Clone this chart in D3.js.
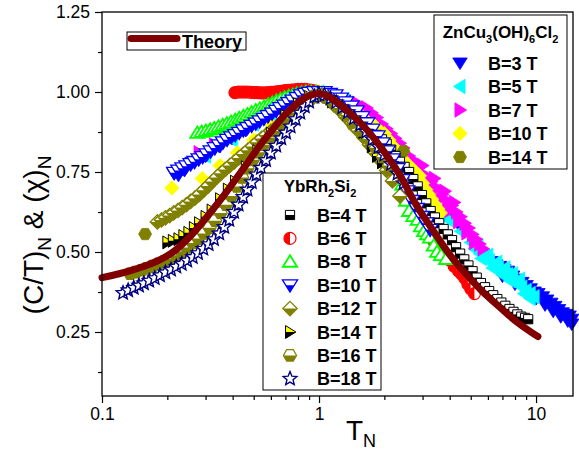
<!DOCTYPE html>
<html><head><meta charset="utf-8">
<script src="https://cdn.jsdelivr.net/npm/d3@7/dist/d3.min.js"></script>
<style>
body{margin:0;background:#fff}
svg{display:block}
text{font-family:"Liberation Sans",Arial,Helvetica,sans-serif;fill:#000}
</style></head>
<body><svg id="c" width="579" height="452"></svg>
<script>
// ---------- data (T_N, normalized value) ----------
const theory = [[0.1,0.42],[0.12,0.432],[0.14,0.445],[0.16,0.458],[0.18,0.472],[0.2,0.488],[0.22,0.508],[0.25,0.543],[0.28,0.58],[0.32,0.628],[0.36,0.672],[0.4,0.714],[0.45,0.762],[0.5,0.806],[0.55,0.844],[0.6,0.876],[0.7,0.93],[0.8,0.966],[0.9,0.988],[1.0,0.995],[1.1,0.987],[1.2,0.97],[1.4,0.932],[1.66,0.882],[2.0,0.812],[2.36,0.74],[2.8,0.648],[3.37,0.565],[4.0,0.492],[4.8,0.428],[5.6,0.38],[6.8,0.328],[8.1,0.283],[9.2,0.256],[10.2,0.236]];

// ZnCu3(OH)6Cl2
const zn3 = [[0.215,0.745],[0.225,0.74],[0.24,0.755],[0.26,0.78],[0.3,0.8],[0.35,0.83],[0.4,0.855],[0.46,0.88],[0.52,0.905],[0.6,0.93],[0.7,0.96],[0.8,0.98],[0.9,0.995],[1.0,1.0],[1.15,0.99],[1.3,0.975],[1.5,0.945],[1.75,0.905],[2.0,0.865],[2.3,0.815],[2.6,0.77],[3.0,0.715],[3.5,0.66],[4.0,0.615],[4.6,0.565],[5.2,0.525],[5.8,0.49],[6.2,0.47],[6.5,0.46],[6.8,0.455],[7.1,0.445],[7.4,0.44],[7.8,0.425],[8.2,0.415],[8.6,0.405],[9.0,0.395],[9.4,0.385],[9.8,0.375],[10.2,0.37],[10.7,0.36],[11.2,0.35],[11.7,0.34],[12.2,0.33],[12.7,0.32],[13.2,0.31],[13.7,0.305],[14.2,0.3],[14.6,0.29],[7.0,0.425],[8.0,0.4],[9.0,0.375],[10.0,0.355],[11.0,0.335],[12.0,0.315],[13.0,0.298],[14.0,0.285],[14.6,0.275]];
const zn5 = [[0.3,0.8],[0.4,0.85],[0.5,0.9],[0.6,0.93],[0.7,0.96],[0.8,0.98],[0.9,0.995],[1.0,1.0],[1.15,0.99],[1.3,0.975],[1.5,0.95],[1.75,0.91],[2.0,0.87],[2.3,0.82],[2.6,0.77],[3.0,0.7],[3.4,0.64],[3.6,0.625],[3.8,0.61],[4.0,0.598],[4.5,0.565],[5.0,0.53],[5.2,0.51],[5.5,0.495],[5.8,0.485],[6.1,0.472],[6.4,0.46],[6.7,0.45],[7.0,0.44],[7.4,0.43],[7.8,0.415],[8.2,0.403],[8.6,0.39],[9.0,0.38],[9.4,0.37],[9.8,0.36],[5.4,0.52],[6.0,0.49],[6.6,0.468],[7.2,0.45],[7.8,0.432],[8.4,0.415],[5.6,0.48],[6.3,0.45],[7.0,0.428],[7.6,0.41],[8.8,0.37],[9.4,0.355]];
const zn7 = [[0.28,0.81],[0.33,0.835],[0.4,0.865],[0.5,0.905],[0.6,0.94],[0.7,0.965],[0.8,0.985],[0.9,1.0],[1.0,1.0],[1.15,0.995],[1.3,0.98],[1.5,0.965],[1.66,0.95],[1.75,0.935],[1.85,0.92],[1.95,0.9],[2.05,0.885],[2.15,0.87],[2.25,0.855],[2.36,0.84],[2.45,0.825],[2.6,0.8],[2.75,0.785],[2.9,0.765],[3.1,0.74],[3.3,0.72],[3.5,0.7],[3.7,0.68],[3.9,0.66],[4.1,0.645],[4.3,0.625],[4.5,0.61],[4.7,0.59],[4.9,0.575],[5.1,0.555],[5.3,0.54],[5.5,0.525],[5.7,0.51],[2.5,0.79],[2.8,0.755],[3.2,0.705],[3.6,0.665],[4.0,0.63],[4.4,0.595],[4.8,0.56],[5.2,0.53],[3.0,0.77],[3.4,0.73],[3.8,0.69],[4.2,0.655]];
const zn10 = [[0.21,0.7],[0.29,0.73],[0.35,0.77],[0.42,0.81],[0.5,0.85],[0.6,0.9],[0.7,0.94],[0.8,0.97],[0.9,0.99],[1.0,1.0],[1.2,0.98],[1.4,0.95],[1.6,0.92],[1.8,0.895],[1.9,0.88],[2.0,0.87],[2.1,0.85],[2.2,0.83],[2.3,0.81],[2.4,0.795],[2.5,0.78],[2.6,0.77],[2.7,0.758],[2.8,0.748],[2.9,0.738],[3.0,0.715],[3.1,0.695],[3.2,0.68],[3.3,0.665],[3.42,0.648],[3.52,0.635],[3.62,0.622]];
const zn14 = [[0.158,0.556],[0.83,0.95],[1.42,0.9],[2.45,0.815]];

// YbRh2Si2
const yb4 = [[0.66,0.975],[0.7,0.982],[0.75,0.99],[0.8,0.995],[0.85,1.0],[0.9,1.0],[0.95,1.0],[1.0,1.0],[1.06,0.995],[1.13,0.985],[1.2,0.972],[1.28,0.958],[1.37,0.94],[1.46,0.922],[1.55,0.905],[1.65,0.89],[1.75,0.878],[1.85,0.866],[1.95,0.852],[2.05,0.838],[2.15,0.82],[2.25,0.8],[2.36,0.782],[2.48,0.766],[2.6,0.75],[2.72,0.728],[2.85,0.705],[2.98,0.678],[3.12,0.652],[3.27,0.628],[3.42,0.608],[3.58,0.59],[3.75,0.572],[3.92,0.555],[4.1,0.537],[4.28,0.515],[4.47,0.495],[4.67,0.477],[4.88,0.458],[5.1,0.44],[5.33,0.42],[5.57,0.403],[5.82,0.39],[6.08,0.378],[6.35,0.365],[6.63,0.353],[6.92,0.342],[7.22,0.332],[7.54,0.322],[7.87,0.313],[8.2,0.305],[8.55,0.298],[8.9,0.294],[9.2,0.29]];
const yb6 = [[0.41,0.998],[0.425,1.0],[0.44,1.0],[0.455,1.0],[0.47,1.0],[0.487,0.999],[0.505,0.998],[0.523,0.998],[0.542,0.997],[0.562,0.997],[0.582,0.998],[0.603,0.999],[0.625,1.0],[0.648,1.001],[0.671,1.002],[0.695,1.004],[0.72,1.005],[0.746,1.006],[0.773,1.007],[0.801,1.008],[0.83,1.008],[0.86,1.008],[0.891,1.007],[0.923,1.005],[0.956,1.003],[0.99,1.0],[1.05,0.995],[1.15,0.98],[1.25,0.962],[1.38,0.938],[1.52,0.91],[1.68,0.875],[1.85,0.835],[2.05,0.79],[2.25,0.745],[2.5,0.69],[2.75,0.64],[3.0,0.595],[3.2,0.56],[3.37,0.535],[3.55,0.515],[3.7,0.5],[3.85,0.488],[4.0,0.475],[4.2,0.455],[4.4,0.44],[4.55,0.43],[4.7,0.418],[4.85,0.4],[5.0,0.385],[5.2,0.37]];
const yb8 = [[0.275,0.872],[0.288,0.875],[0.301,0.878],[0.315,0.882],[0.329,0.886],[0.344,0.891],[0.36,0.896],[0.376,0.901],[0.393,0.906],[0.411,0.912],[0.429,0.918],[0.448,0.924],[0.468,0.93],[0.489,0.936],[0.511,0.942],[0.534,0.948],[0.558,0.954],[0.583,0.96],[0.609,0.966],[0.636,0.972],[0.664,0.977],[0.694,0.982],[0.725,0.987],[0.757,0.991],[0.79,0.995],[0.83,0.998],[0.87,1.0],[0.92,1.0],[0.97,1.0],[1.03,0.996],[1.1,0.987],[1.2,0.97],[1.3,0.952],[1.42,0.93],[1.55,0.905],[1.7,0.875],[1.85,0.845],[2.0,0.812],[2.15,0.78],[2.3,0.75],[2.42,0.71],[2.52,0.66],[2.6,0.628],[2.72,0.612],[2.85,0.6],[2.95,0.58],[3.05,0.565],[3.15,0.555],[3.25,0.545],[3.38,0.52],[3.5,0.5],[3.65,0.49],[3.85,0.478]];
const yb10 = [[0.215,0.748],[0.225,0.755],[0.235,0.762],[0.245,0.768],[0.256,0.775],[0.267,0.782],[0.279,0.79],[0.291,0.797],[0.304,0.806],[0.317,0.815],[0.331,0.825],[0.346,0.834],[0.361,0.843],[0.377,0.851],[0.394,0.859],[0.411,0.866],[0.429,0.873],[0.448,0.881],[0.468,0.888],[0.489,0.895],[0.511,0.902],[0.533,0.909],[0.557,0.917],[0.582,0.925],[0.608,0.933],[0.635,0.942],[0.663,0.95],[0.693,0.958],[0.724,0.966],[0.756,0.974],[0.79,0.982],[0.826,0.99],[0.863,0.995],[0.9,0.998],[0.95,1.0],[1.0,1.0],[1.06,1.0],[1.12,0.995],[1.19,0.99],[1.26,0.98],[1.33,0.968],[1.41,0.955],[1.49,0.94],[1.58,0.922],[1.67,0.903],[1.76,0.883],[1.86,0.862],[1.96,0.84],[2.07,0.815],[2.18,0.79],[2.3,0.76],[2.42,0.725],[2.55,0.69],[2.68,0.66],[2.82,0.635],[2.97,0.61],[3.12,0.59],[3.25,0.57]];
const yb12 = [[0.18,0.594],[0.188,0.6],[0.196,0.607],[0.205,0.614],[0.214,0.622],[0.224,0.63],[0.234,0.639],[0.245,0.648],[0.256,0.658],[0.268,0.668],[0.281,0.68],[0.294,0.693],[0.308,0.706],[0.322,0.72],[0.337,0.733],[0.353,0.746],[0.37,0.758],[0.388,0.77],[0.407,0.782],[0.427,0.794],[0.448,0.806],[0.47,0.818],[0.494,0.83],[0.518,0.843],[0.544,0.855],[0.571,0.866],[0.6,0.877],[0.63,0.888],[0.662,0.9],[0.695,0.912],[0.73,0.925],[0.767,0.937],[0.806,0.949],[0.846,0.96],[0.888,0.971],[0.933,0.98],[0.98,0.987],[1.03,0.99],[1.1,0.978],[1.17,0.96],[1.25,0.942],[1.33,0.922],[1.42,0.902],[1.51,0.88],[1.61,0.858],[1.71,0.835],[1.82,0.81],[1.93,0.784],[2.05,0.755],[2.18,0.722],[2.36,0.675]];
const yb14 = [[0.2,0.53],[0.212,0.535],[0.225,0.54],[0.237,0.55],[0.25,0.56],[0.265,0.575],[0.28,0.59],[0.3,0.61],[0.32,0.63],[0.35,0.665],[0.38,0.695],[0.41,0.72],[0.46,0.765],[0.52,0.815],[0.6,0.87],[0.7,0.925],[0.8,0.962],[0.9,0.985],[1.0,0.99],[1.15,0.97],[1.35,0.93],[1.6,0.875],[1.75,0.83],[1.85,0.8],[1.95,0.78]];
const yb16 = [[0.135,0.432],[0.143,0.437],[0.152,0.443],[0.161,0.449],[0.171,0.456],[0.182,0.463],[0.194,0.471],[0.206,0.479],[0.219,0.49],[0.232,0.502],[0.246,0.514],[0.262,0.528],[0.278,0.542],[0.295,0.558],[0.313,0.576],[0.332,0.598],[0.352,0.622],[0.373,0.648],[0.395,0.675],[0.418,0.705],[0.442,0.733],[0.468,0.762],[0.495,0.788],[0.525,0.812],[0.555,0.835],[0.59,0.857],[0.625,0.878],[0.665,0.9],[0.705,0.918],[0.75,0.936],[0.8,0.954],[0.85,0.968],[0.9,0.98],[0.95,0.987],[1.0,0.99],[1.08,0.982],[1.16,0.968],[1.25,0.95],[1.35,0.928],[1.45,0.905],[1.57,0.88],[1.7,0.853],[1.83,0.826],[1.97,0.797],[2.1,0.77]];
const yb18 = [[0.125,0.372],[0.132,0.38],[0.14,0.388],[0.148,0.395],[0.156,0.402],[0.165,0.41],[0.175,0.418],[0.185,0.427],[0.196,0.436],[0.208,0.445],[0.22,0.454],[0.233,0.463],[0.247,0.473],[0.262,0.484],[0.277,0.496],[0.293,0.51],[0.31,0.524],[0.328,0.54],[0.347,0.558],[0.366,0.578],[0.386,0.6],[0.406,0.625],[0.426,0.648],[0.447,0.672],[0.468,0.695],[0.49,0.718],[0.515,0.742],[0.54,0.763],[0.57,0.787],[0.6,0.81],[0.635,0.832],[0.67,0.855],[0.705,0.873],[0.74,0.892],[0.78,0.915],[0.82,0.935],[0.86,0.955],[0.9,0.97],[0.95,0.985],[1.0,0.993],[1.06,0.99],[1.13,0.98],[1.2,0.968],[1.28,0.952],[1.36,0.937],[1.45,0.918],[1.55,0.898],[1.65,0.876],[1.76,0.852],[1.88,0.828],[2.0,0.804],[2.15,0.775],[2.3,0.745],[2.45,0.715]];

const xMajor = [0.1, 1, 10];
const xMinor = [0.2,0.3,0.4,0.5,0.6,0.7,0.8,0.9,2,3,4,5,6,7,8,9];
const yMajor = [0.25, 0.5, 0.75, 1.0, 1.25];
const yMinor = [0.125, 0.375, 0.625, 0.875, 1.125];

const znLabels = ["B=3 T","B=5 T","B=7 T","B=10 T","B=14 T"];
const ybLabels = ["B=4 T","B=6 T","B=8 T","B=10 T","B=12 T","B=14 T","B=16 T","B=18 T"];

// ---------- setup ----------
const svg = d3.select("#c");
const L = 102, R = 573, T = 12, B = 396;
const x = d3.scaleLog().domain([0.1, 14.8]).range([L, R]);
const y = d3.scaleLinear().domain([0.05, 1.25]).range([B, T]);

// ---------- shapes ----------
function polyPath(p){ return "M" + p.map(q => q[0].toFixed(2)+","+q[1].toFixed(2)).join("L") + "Z"; }
function clip(pts, f){
  const out = [];
  for (let i = 0; i < pts.length; i++){
    const a = pts[i], b = pts[(i+1)%pts.length];
    const fa = f(a), fb = f(b);
    if (fa >= 0) out.push(a);
    if ((fa >= 0) !== (fb >= 0)){
      const t = fa/(fa-fb);
      out.push([a[0]+t*(b[0]-a[0]), a[1]+t*(b[1]-a[1])]);
    }
  }
  return out;
}
const shp = {
  square: r => [[-r,-r],[r,-r],[r,r],[-r,r]],
  triUp: r => [[0,-r*1.05],[r*1.15,r*0.8],[-r*1.15,r*0.8]],
  triDown: r => [[-r*1.15,-r*0.8],[r*1.15,-r*0.8],[0,r*1.05]],
  triLeft: r => [[-r*1.05,0],[r*0.8,-r*1.15],[r*0.8,r*1.15]],
  triRight: r => [[r*1.05,0],[-r*0.8,-r*1.15],[-r*0.8,r*1.15]],
  diamond: r => [[0,-r],[r,0],[0,r],[-r,0]],
  hex: r => d3.range(6).map(i => [r*Math.cos(i*Math.PI/3), r*Math.sin(i*Math.PI/3)]),
  star: r => d3.range(10).map(i => { const a = -Math.PI/2 + i*Math.PI/5, rr = i%2 ? r*0.45 : r; return [rr*Math.cos(a), rr*Math.sin(a)]; })
};
const bottomHalf = p => p[1];

const specs = {
  zn3:  {shape:"triDown", r:6.3, base:"#0000ff", stroke:"#0000ff", sw:0.8},
  zn5:  {shape:"triLeft", r:6.3, base:"#00ffff", stroke:"#00ffff", sw:0.8},
  zn7:  {shape:"triRight", r:6.3, base:"#ff00ff", stroke:"#ff00ff", sw:0.8},
  zn10: {shape:"diamond", r:7.2, base:"#ffff00", stroke:"#ffff00", sw:0.8},
  zn14: {shape:"hex", r:6.5, base:"#808000", stroke:"#808000", sw:0.8},
  yb4:  {shape:"square", r:4.6, base:"#ffffff", half:"#000000", hp:bottomHalf, stroke:"#000000", sw:1},
  yb6:  {shape:"circle", r:6, base:"#ffffff", half:"#ff0000", stroke:"#ff0000", sw:1.2},
  yb8:  {shape:"triUp", r:6.2, base:"#ffffff", stroke:"#00ff00", sw:1.8},
  yb10: {shape:"triDown", r:6.6, base:"#ffffff", half:"#0000ff", hp:bottomHalf, stroke:"#0000ff", sw:1.3},
  yb12: {shape:"diamond", r:7.2, base:"#ffffff", half:"#808000", hp:bottomHalf, stroke:"#808000", sw:1.3},
  yb14: {shape:"triRight", r:5.6, base:"#ffff00", half:"#000000", hp:bottomHalf, stroke:"#000000", sw:1},
  yb16: {shape:"hex", r:6.6, base:"#ffffff", half:"#808000", hp:bottomHalf, stroke:"#808000", sw:1.2},
  yb18: {shape:"star", r:7.2, base:"#ffffff", stroke:"#000080", sw:1.4}
};

function drawMarker(g, s){
  if (s.shape === "circle"){
    const r = s.r;
    g.append("circle").attr("r", r).attr("fill", s.base);
    g.append("path").attr("d", `M0,${-r}A${r},${r} 0 0 0 0,${r}Z`).attr("fill", s.half);
    g.append("circle").attr("r", r).attr("fill","none").attr("stroke", s.stroke).attr("stroke-width", s.sw);
    return;
  }
  const p = shp[s.shape](s.r);
  g.append("path").attr("d", polyPath(p)).attr("fill", s.base);
  if (s.half) g.append("path").attr("d", polyPath(clip(p, s.hp))).attr("fill", s.half);
  g.append("path").attr("d", polyPath(p)).attr("fill","none").attr("stroke", s.stroke).attr("stroke-width", s.sw);
}

function drawSeries(data, key){
  const s = specs[key];
  svg.append("g").attr("class","series-"+key)
    .selectAll("g").data(data).join("g")
    .attr("transform", d => `translate(${x(d[0])},${y(d[1])})`)
    .each(function(){ drawMarker(d3.select(this), s); });
}

// ---------- axes ----------
const ax = svg.append("g").attr("transform", `translate(0,${B})`);
ax.call(d3.axisBottom(x).tickValues(xMajor).tickFormat(d => d === 0.1 ? "0.1" : d3.format("d")(d)).tickSize(7).tickPadding(5));
const axm = svg.append("g").attr("transform", `translate(0,${B})`);
axm.call(d3.axisBottom(x).tickValues(xMinor).tickFormat("").tickSize(4));
const ay = svg.append("g").attr("transform", `translate(${L},0)`);
ay.call(d3.axisLeft(y).tickValues(yMajor).tickFormat(d3.format(".2f")).tickSize(7).tickPadding(5));
const aym = svg.append("g").attr("transform", `translate(${L},0)`);
aym.call(d3.axisLeft(y).tickValues(yMinor).tickFormat("").tickSize(4));
svg.selectAll(".domain").remove();
svg.selectAll(".tick line").attr("stroke","#000").attr("stroke-width",1.2);
svg.selectAll(".tick text").attr("font-size",17.5).attr("font-family",'"Liberation Sans",Arial,sans-serif').attr("fill","#000");

// ---------- data marks ----------
drawSeries(zn3,"zn3"); drawSeries(zn5,"zn5"); drawSeries(zn7,"zn7"); drawSeries(zn10,"zn10"); drawSeries(zn14,"zn14");
drawSeries(yb4,"yb4"); drawSeries(yb6,"yb6"); drawSeries(yb8,"yb8"); drawSeries(yb10,"yb10");
drawSeries(yb12,"yb12"); drawSeries(yb14,"yb14"); drawSeries(yb16,"yb16"); drawSeries(yb18,"yb18");

const line = d3.line().x(d => x(d[0])).y(d => y(d[1])).curve(d3.curveMonotoneX);
svg.append("path").datum(theory).attr("d", line).attr("fill","none")
  .attr("stroke","#800000").attr("stroke-width",7).attr("stroke-linecap","round").attr("stroke-linejoin","round");

svg.append("rect").attr("x",L).attr("y",T).attr("width",R-L).attr("height",B-T)
  .attr("fill","none").attr("stroke","#000").attr("stroke-width",1.3);

// ---------- axis titles ----------
const xt = svg.append("text").attr("x",346).attr("y",440).attr("font-size",28);
xt.append("tspan").text("T");
xt.append("tspan").attr("dy",7).attr("font-size",18).text("N");

const yt = svg.append("text").attr("transform","translate(43,235) rotate(-90)").attr("text-anchor","middle").attr("font-size",28);
yt.append("tspan").text("(C/T)");
yt.append("tspan").attr("dy",8).attr("font-size",19).text("N");
yt.append("tspan").attr("dy",-8).text(" & (\u03c7)");
yt.append("tspan").attr("dy",8).attr("font-size",19).text("N");

// ---------- legends ----------
svg.append("rect").attr("x",127).attr("y",32).attr("width",119).attr("height",18).attr("fill","#fff").attr("stroke","#000").attr("stroke-width",1);
svg.append("line").attr("x1",131).attr("x2",177).attr("y1",38.5).attr("y2",38.5).attr("stroke","#800000").attr("stroke-width",7).attr("stroke-linecap","round");
svg.append("text").attr("x",182).attr("y",48).attr("font-size",18).attr("font-weight","bold").text("Theory");

svg.append("rect").attr("x",434).attr("y",15).attr("width",133).attr("height",154).attr("fill","#fff").attr("stroke","#000").attr("stroke-width",1);
const zt = svg.append("text").attr("x",500.5).attr("y",38).attr("text-anchor","middle").attr("font-size",17).attr("font-weight","bold");
zt.append("tspan").text("ZnCu");
zt.append("tspan").attr("dy",5).attr("font-size",11).text("3");
zt.append("tspan").attr("dy",-5).text("(OH)");
zt.append("tspan").attr("dy",5).attr("font-size",11).text("6");
zt.append("tspan").attr("dy",-5).text("Cl");
zt.append("tspan").attr("dy",5).attr("font-size",11).text("2");
["zn3","zn5","zn7","zn10","zn14"].forEach((k,i) => {
  const cy = 63 + i*23.5;
  drawMarker(svg.append("g").attr("transform",`translate(460,${cy})`), specs[k]);
  svg.append("text").attr("x",488).attr("y",cy+6.5).attr("font-size",18).attr("font-weight","bold").text(znLabels[i]);
});

svg.append("rect").attr("x",263).attr("y",173).attr("width",118).attr("height",217).attr("fill","#fff").attr("stroke","#000").attr("stroke-width",1);
const ytl = svg.append("text").attr("x",320).attr("y",192).attr("text-anchor","middle").attr("font-size",17).attr("font-weight","bold");
ytl.append("tspan").text("YbRh");
ytl.append("tspan").attr("dy",5).attr("font-size",11).text("2");
ytl.append("tspan").attr("dy",-5).text("Si");
ytl.append("tspan").attr("dy",5).attr("font-size",11).text("2");
["yb4","yb6","yb8","yb10","yb12","yb14","yb16","yb18"].forEach((k,i) => {
  const cy = 215 + i*23.4;
  drawMarker(svg.append("g").attr("transform",`translate(290,${cy})`), specs[k]);
  svg.append("text").attr("x",317).attr("y",cy+6.5).attr("font-size",18).attr("font-weight","bold").text(ybLabels[i]);
});
</script>
</body></html>
